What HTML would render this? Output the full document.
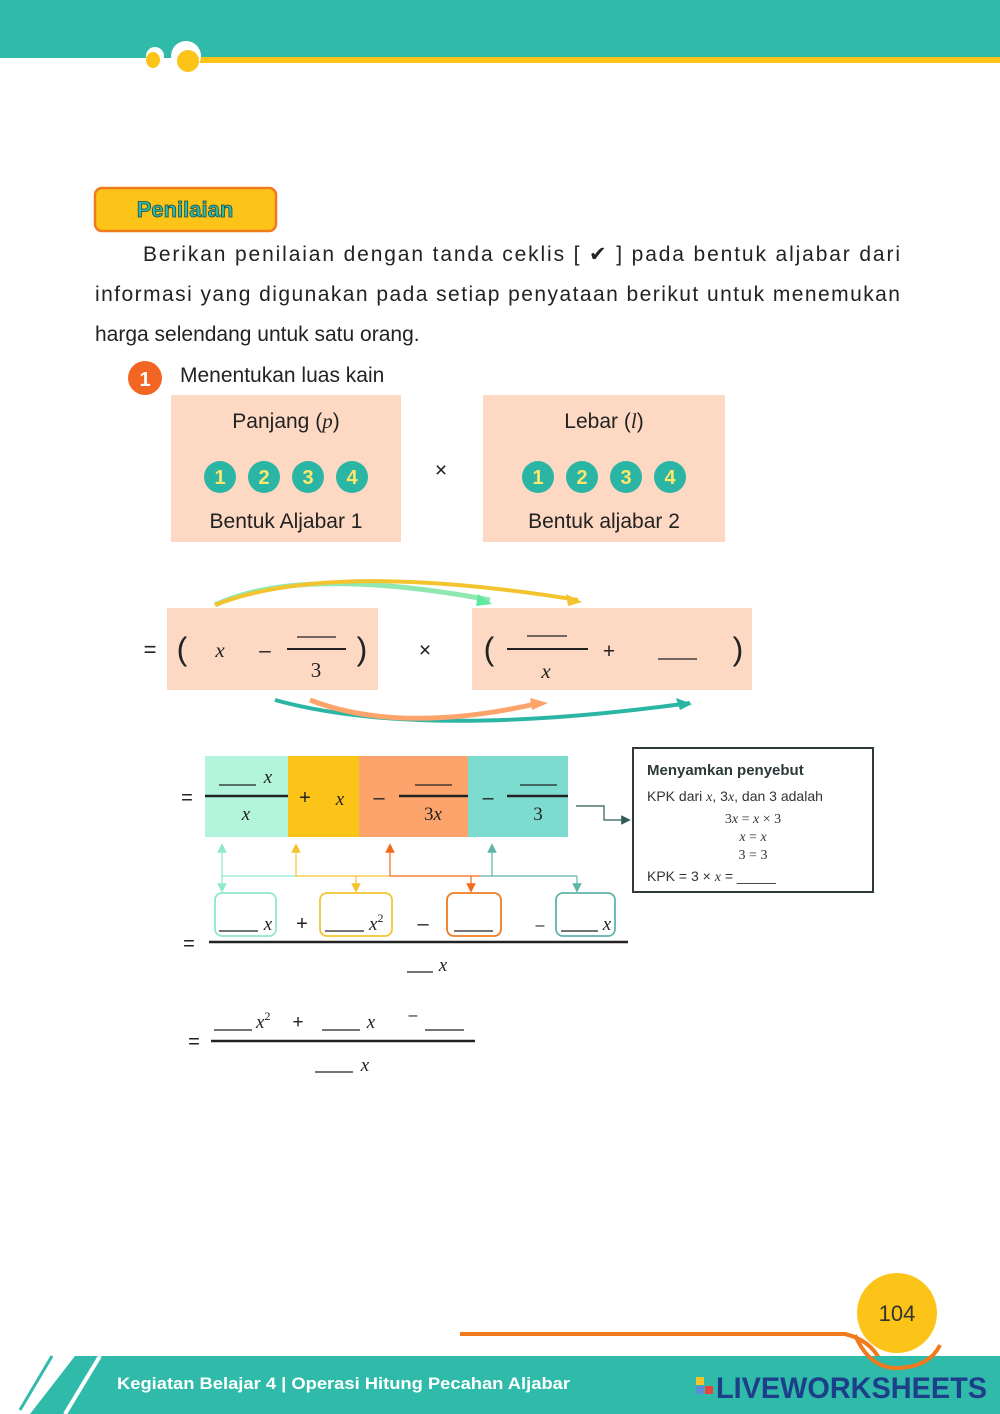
<!DOCTYPE html>
<html><head><meta charset="utf-8"><style>
html,body{margin:0;padding:0;background:#fff}
svg{display:block}
text{font-family:"Liberation Sans",sans-serif}
.m{font-family:"Liberation Serif",serif;font-style:italic}
.s{font-family:"Liberation Serif",serif}
</style></head><body>
<svg width="1000" height="1414" viewBox="0 0 1000 1414" xmlns="http://www.w3.org/2000/svg">
<defs>
<marker id="aG" markerWidth="8" markerHeight="8" refX="4" refY="4" orient="auto"><path d="M0,0 L8,4 L0,8z" fill="#8fe8cc"/></marker>
<marker id="aY" markerWidth="8" markerHeight="8" refX="4" refY="4" orient="auto"><path d="M0,0 L8,4 L0,8z" fill="#f4c430"/></marker>
<marker id="aO" markerWidth="8" markerHeight="8" refX="4" refY="4" orient="auto"><path d="M0,0 L8,4 L0,8z" fill="#f06a1a"/></marker>
<marker id="aT" markerWidth="8" markerHeight="8" refX="4" refY="4" orient="auto"><path d="M0,0 L8,4 L0,8z" fill="#5fb5aa"/></marker>
<marker id="aD" markerWidth="8" markerHeight="8" refX="4" refY="4" orient="auto"><path d="M0,0 L8,4 L0,8z" fill="#2f5a55"/></marker>
</defs>
<rect x="0" y="0" width="1000" height="58" fill="#2fbaa9"/>
<rect x="190" y="57" width="810" height="6" fill="#fcc419"/>
<circle cx="186" cy="56" r="15" fill="#fff"/>
<circle cx="155" cy="56" r="9" fill="#fff"/>
<ellipse cx="188" cy="61" rx="11" ry="11" fill="#fcc419"/>
<ellipse cx="153" cy="60" rx="7" ry="8" fill="#fcc419"/>
<rect x="95" y="188" width="181" height="43" rx="7" fill="#fcc419" stroke="#f07b1e" stroke-width="2.5"/>
<text x="185" y="217" text-anchor="middle" font-size="22" font-weight="bold" fill="#2fbaa9" stroke="#1f4a45" stroke-width="0.8">Penilaian</text>
<g font-size="21" fill="#222">
<text x="143" y="261" textLength="757" lengthAdjust="spacing">Berikan penilaian dengan tanda ceklis [ ✔ ] pada bentuk aljabar dari</text>
<text x="95" y="301" textLength="805" lengthAdjust="spacing">informasi yang digunakan pada setiap penyataan berikut untuk menemukan</text>
<text x="95" y="341">harga selendang untuk satu orang.</text>
<text x="180" y="382">Menentukan luas kain</text>
</g>
<circle cx="145" cy="378" r="17" fill="#f26522"/>
<text x="145" y="386" text-anchor="middle" font-size="20" font-weight="bold" fill="#fff">1</text>
<rect x="171" y="395" width="230" height="147" fill="#fdd9c3"/>
<rect x="483" y="395" width="242" height="147" fill="#fdd9c3"/>
<g font-size="21" fill="#222" text-anchor="middle">
<text x="286" y="428">Panjang (<tspan class="m">p</tspan>)</text>
<text x="604" y="428">Lebar (<tspan class="m">l</tspan>)</text>
<text x="286" y="528">Bentuk Aljabar 1</text>
<text x="604" y="528">Bentuk aljabar 2</text>
<text x="441" y="477">×</text>
</g>
<g font-size="20" font-weight="bold" fill="#fde66a" text-anchor="middle">
<circle cx="220" cy="477" r="16" fill="#2bb5a5"/><text x="220" y="484">1</text>
<circle cx="264" cy="477" r="16" fill="#2bb5a5"/><text x="264" y="484">2</text>
<circle cx="308" cy="477" r="16" fill="#2bb5a5"/><text x="308" y="484">3</text>
<circle cx="352" cy="477" r="16" fill="#2bb5a5"/><text x="352" y="484">4</text>
<circle cx="538" cy="477" r="16" fill="#2bb5a5"/><text x="538" y="484">1</text>
<circle cx="582" cy="477" r="16" fill="#2bb5a5"/><text x="582" y="484">2</text>
<circle cx="626" cy="477" r="16" fill="#2bb5a5"/><text x="626" y="484">3</text>
<circle cx="670" cy="477" r="16" fill="#2bb5a5"/><text x="670" y="484">4</text>
</g>
<path d="M215,605 Q300,565 490,600" stroke="#8fe8b0" stroke-width="5" fill="none"/>
<path d="M215,605 Q330,560 578,600" stroke="#f4c430" stroke-width="4" fill="none"/>
<path d="M478,594 L492,604 L476,606z" fill="#5ee8a0"/>
<path d="M566,594 L582,602 L568,606z" fill="#f4c430"/>
<path d="M275,700 Q420,740 690,703" stroke="#2bb5a5" stroke-width="4" fill="none"/>
<path d="M310,700 Q400,735 540,703" stroke="#fca46c" stroke-width="5" fill="none"/>
<path d="M530,698 L548,703 L532,710z" fill="#fca46c"/>
<path d="M676,698 L692,704 L680,710z" fill="#2bb5a5"/>
<rect x="167" y="608" width="211" height="82" fill="#fdd9c3"/>
<rect x="472" y="608" width="280" height="82" fill="#fdd9c3"/>
<g fill="#222">
<text x="150" y="657" font-size="22" text-anchor="middle">=</text>
<text x="182" y="660" font-size="32" text-anchor="middle">(</text>
<text x="220" y="657" font-size="21" class="m" text-anchor="middle">x</text>
<text x="265" y="657" font-size="21" text-anchor="middle">–</text>
<line x1="287" y1="649" x2="346" y2="649" stroke="#222" stroke-width="2"/>
<line x1="297" y1="637" x2="336" y2="637" stroke="#222" stroke-width="1.2"/>
<text x="316" y="677" font-size="21" class="s" text-anchor="middle">3</text>
<text x="362" y="660" font-size="32" text-anchor="middle">)</text>
<text x="425" y="657" font-size="21" text-anchor="middle">×</text>
<text x="489" y="660" font-size="32" text-anchor="middle">(</text>
<line x1="507" y1="649" x2="588" y2="649" stroke="#222" stroke-width="2"/>
<line x1="527" y1="636" x2="567" y2="636" stroke="#222" stroke-width="1.2"/>
<text x="546" y="678" font-size="21" class="m" text-anchor="middle">x</text>
<text x="609" y="658" font-size="21" text-anchor="middle">+</text>
<line x1="658" y1="659" x2="697" y2="659" stroke="#222" stroke-width="1.2"/>
<text x="738" y="660" font-size="32" text-anchor="middle">)</text>
</g>
<rect x="205" y="756" width="83" height="81" fill="#b3f5dc"/>
<rect x="288" y="756" width="71" height="81" fill="#fcc419"/>
<rect x="359" y="756" width="109" height="81" fill="#fca46c"/>
<rect x="468" y="756" width="100" height="81" fill="#7ddcd0"/>
<g fill="#222">
<text x="187" y="804" font-size="20" text-anchor="middle">=</text>
<line x1="205" y1="796" x2="288" y2="796" stroke="#222" stroke-width="2.5"/>
<line x1="219" y1="785" x2="256" y2="785" stroke="#222" stroke-width="1.2"/>
<text x="268" y="783" font-size="19" class="m" text-anchor="middle">x</text>
<text x="246" y="820" font-size="19" class="m" text-anchor="middle">x</text>
<text x="305" y="804" font-size="20" text-anchor="middle">+</text>
<text x="340" y="805" font-size="19" class="m" text-anchor="middle">x</text>
<text x="379" y="804" font-size="20" text-anchor="middle">–</text>
<line x1="399" y1="796" x2="468" y2="796" stroke="#222" stroke-width="2.5"/>
<line x1="415" y1="785" x2="452" y2="785" stroke="#222" stroke-width="1.2"/>
<text x="433" y="820" font-size="19" class="s" text-anchor="middle">3<tspan class="m">x</tspan></text>
<text x="488" y="804" font-size="20" text-anchor="middle">–</text>
<line x1="507" y1="796" x2="568" y2="796" stroke="#222" stroke-width="2.5"/>
<line x1="520" y1="785" x2="557" y2="785" stroke="#222" stroke-width="1.2"/>
<text x="538" y="820" font-size="19" class="s" text-anchor="middle">3</text>
</g>
<polyline points="576,806 604,806 604,820 626,820" fill="none" stroke="#2f5a55" stroke-width="1.2" marker-end="url(#aD)"/>
<rect x="633" y="748" width="240" height="144" fill="#fff" stroke="#2f3a38" stroke-width="2"/>
<g fill="#333" font-size="14">
<text x="647" y="775" font-weight="bold" font-size="15" fill="#2a3a38">Menyamkan penyebut</text>
<text x="647" y="801">KPK dari <tspan class="m">x</tspan>, 3<tspan class="m">x</tspan>, dan 3 adalah</text>
<text x="753" y="823" text-anchor="middle" class="s">3<tspan class="m">x</tspan> = <tspan class="m">x</tspan> × 3</text>
<text x="753" y="841" text-anchor="middle" class="s"><tspan class="m">x</tspan> = <tspan class="m">x</tspan></text>
<text x="753" y="859" text-anchor="middle" class="s">3 = 3</text>
<text x="647" y="881">KPK = 3 × <tspan class="m">x</tspan> = _____</text>
</g>
<g fill="none" stroke-width="1.2">
<line x1="222" y1="878" x2="222" y2="848" stroke="#8fe8cc" marker-end="url(#aG)"/>
<line x1="222" y1="876" x2="222" y2="888" stroke="#8fe8cc" marker-end="url(#aG)"/>
<line x1="222" y1="876" x2="296" y2="876" stroke="#8fe8cc"/>
<line x1="296" y1="876" x2="390" y2="876" stroke="#f4c430"/>
<line x1="296" y1="876" x2="296" y2="848" stroke="#f4c430" marker-end="url(#aY)"/>
<line x1="356" y1="876" x2="356" y2="888" stroke="#f4c430" marker-end="url(#aY)"/>
<line x1="390" y1="876" x2="480" y2="876" stroke="#f06a1a"/>
<line x1="390" y1="876" x2="390" y2="848" stroke="#f06a1a" marker-end="url(#aO)"/>
<line x1="471" y1="876" x2="471" y2="888" stroke="#f06a1a" marker-end="url(#aO)"/>
<line x1="480" y1="876" x2="577" y2="876" stroke="#5fb5aa"/>
<line x1="492" y1="876" x2="492" y2="848" stroke="#5fb5aa" marker-end="url(#aT)"/>
<line x1="577" y1="876" x2="577" y2="888" stroke="#5fb5aa" marker-end="url(#aT)"/>
</g>
<g fill="none" stroke-width="1.8">
<rect x="215" y="893" width="61" height="43" rx="7" stroke="#8fe8cc"/>
<rect x="320" y="893" width="72" height="43" rx="7" stroke="#f4c430"/>
<rect x="447" y="893" width="54" height="43" rx="7" stroke="#f07b1e"/>
<rect x="556" y="893" width="59" height="43" rx="7" stroke="#5fb5aa"/>
</g>
<g fill="#222">
<line x1="219" y1="931" x2="258" y2="931" stroke="#222" stroke-width="1.2"/>
<text x="268" y="930" font-size="19" class="m" text-anchor="middle">x</text>
<text x="302" y="930" font-size="20" text-anchor="middle">+</text>
<line x1="325" y1="931" x2="364" y2="931" stroke="#222" stroke-width="1.2"/>
<text x="369" y="930" font-size="19" class="m">x<tspan font-size="12" dy="-8" class="s" font-style="normal">2</tspan></text>
<text x="423" y="930" font-size="20" text-anchor="middle">–</text>
<line x1="454" y1="931" x2="493" y2="931" stroke="#222" stroke-width="1.2"/>
<text x="540" y="930" font-size="16" text-anchor="middle">–</text>
<line x1="561" y1="931" x2="598" y2="931" stroke="#222" stroke-width="1.2"/>
<text x="607" y="930" font-size="19" class="m" text-anchor="middle">x</text>
<text x="189" y="950" font-size="20" text-anchor="middle">=</text>
<line x1="209" y1="942" x2="628" y2="942" stroke="#222" stroke-width="2.5"/>
<line x1="407" y1="972" x2="433" y2="972" stroke="#222" stroke-width="1.2"/>
<text x="443" y="971" font-size="19" class="m" text-anchor="middle">x</text>
</g>
<g fill="#222">
<line x1="214" y1="1030" x2="252" y2="1030" stroke="#222" stroke-width="1.2"/>
<text x="256" y="1028" font-size="19" class="m">x<tspan font-size="12" dy="-8" class="s" font-style="normal">2</tspan></text>
<text x="298" y="1028" font-size="19" text-anchor="middle">+</text>
<line x1="322" y1="1030" x2="360" y2="1030" stroke="#222" stroke-width="1.2"/>
<text x="371" y="1028" font-size="19" class="m" text-anchor="middle">x</text>
<text x="413" y="1020" font-size="16" text-anchor="middle">–</text>
<line x1="425" y1="1030" x2="464" y2="1030" stroke="#222" stroke-width="1.2"/>
<text x="194" y="1048" font-size="20" text-anchor="middle">=</text>
<line x1="211" y1="1041" x2="475" y2="1041" stroke="#222" stroke-width="2.5"/>
<line x1="315" y1="1072" x2="353" y2="1072" stroke="#222" stroke-width="1.2"/>
<text x="365" y="1071" font-size="19" class="m" text-anchor="middle">x</text>
</g>
<path d="M460,1334 L845,1334 Q870,1340 880,1360" stroke="#f07b1e" stroke-width="4" fill="none"/>
<polygon points="75,1356 1000,1356 1000,1414 30,1414" fill="#2fbaa9"/>
<line x1="100" y1="1356" x2="65" y2="1414" stroke="#fff" stroke-width="4"/>
<line x1="52" y1="1356" x2="20" y2="1410" stroke="#2fbaa9" stroke-width="3"/>
<path d="M855,1335 Q870,1370 900,1368 Q930,1366 940,1345" stroke="#f07b1e" stroke-width="4" fill="none"/>
<circle cx="897" cy="1313" r="40" fill="#fcc419"/>
<text x="897" y="1321" text-anchor="middle" font-size="22" fill="#333">104</text>
<text x="117" y="1389" font-size="17" font-weight="bold" fill="#fff" textLength="453" lengthAdjust="spacingAndGlyphs">Kegiatan Belajar 4 | Operasi Hitung Pecahan Aljabar</text>
<rect x="696" y="1377" width="8" height="8" fill="#f4c430"/><rect x="705" y="1377" width="8" height="8" fill="#2fbaa9"/>
<rect x="696" y="1386" width="8" height="8" fill="#5a8fd8"/><rect x="705" y="1386" width="8" height="8" fill="#e8463a"/>
<text x="716" y="1398" font-size="30" font-weight="bold" fill="#1d3f8a" textLength="271" lengthAdjust="spacingAndGlyphs">LIVEWORKSHEETS</text>
</svg>
</body></html>
